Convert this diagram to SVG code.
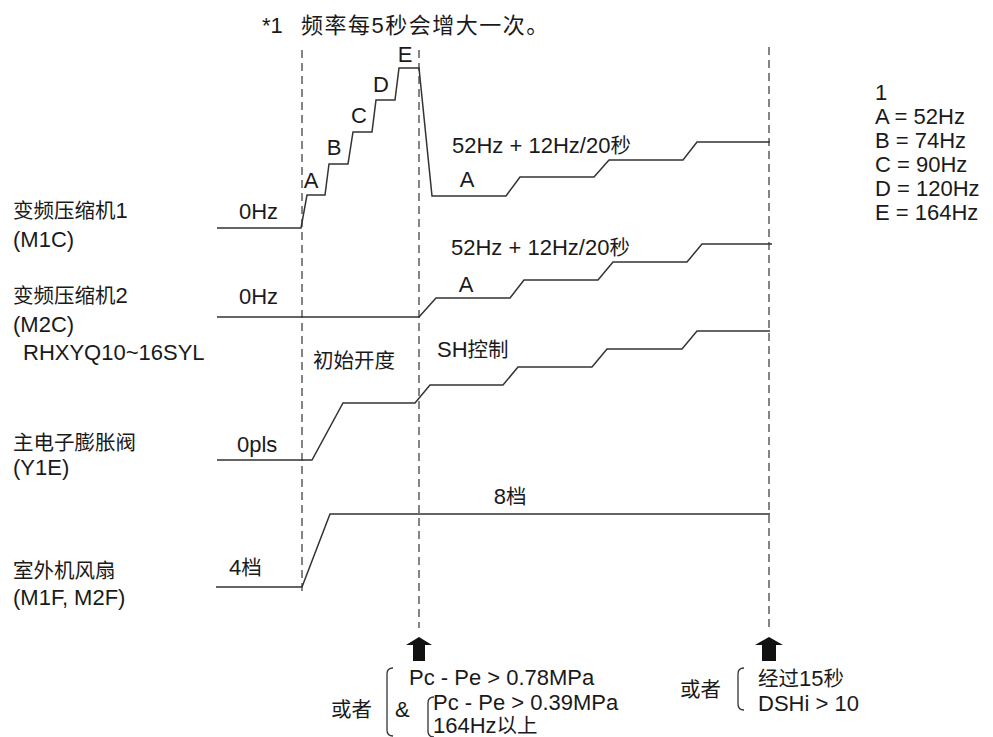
<svg xmlns="http://www.w3.org/2000/svg" width="993" height="737" viewBox="0 0 993 737">
<style>
text{font-family:"Liberation Sans","Noto Sans CJK SC",sans-serif;font-size:22px;fill:#1a1a1a}
.c{font-size:20.5px}
.tr{fill:none;stroke:#333;stroke-width:1.5;stroke-linejoin:miter}
.dash{fill:none;stroke:#444;stroke-width:1.3;stroke-dasharray:8 5}
.br{fill:none;stroke:#333;stroke-width:1.3}
.arr{fill:#111}
</style>
<rect width="993" height="737" fill="#fff"/>
<g id="note">
<text x="262" y="33">*1</text>
<text x="301" y="33" letter-spacing="1.5">频率每<tspan font-size="22">5</tspan>秒会增大一次。</text>
</g>
<g id="legend">
<text x="875" y="100">1</text>
<text x="875" y="124">A = 52Hz</text>
<text x="875" y="148">B = 74Hz</text>
<text x="875" y="172">C = 90Hz</text>
<text x="875" y="196">D = 120Hz</text>
<text x="875" y="220">E = 164Hz</text>
</g>
<g id="connectors">
<path class="dash" d="M302,50V595"/>
<path class="dash" d="M419,50V628"/>
<path class="dash" d="M769,47V630"/>
</g>
<g id="m1c">
<text x="13" y="218"><tspan class="c">变频压缩机</tspan>1</text>
<text x="13" y="247">(M1C)</text>
<text x="239" y="219">0Hz</text>
<path class="tr" d="M217,228H301L307,195H325L329,164H348L353,132H372L376,100H395L399,68H419L432,196H506L520,177H594L609,160H683L697,142H770"/>
<text x="311" y="188" text-anchor="middle">A</text>
<text x="334" y="155" text-anchor="middle">B</text>
<text x="359" y="123" text-anchor="middle">C</text>
<text x="381" y="92" text-anchor="middle">D</text>
<text x="405" y="62" text-anchor="middle">E</text>
<text x="452" y="153">52Hz + 12Hz/20<tspan class="c">秒</tspan></text>
<text x="467" y="187" text-anchor="middle">A</text>
</g>
<g id="m2c">
<text x="13" y="303"><tspan class="c">变频压缩机</tspan>2</text>
<text x="13" y="332">(M2C)</text>
<text x="23" y="360">RHXYQ10~16SYL</text>
<text x="239" y="304">0Hz</text>
<path class="tr" d="M217,317H419L436,298H510L524,280H598L613,262H687L702,244H772"/>
<text x="451" y="255">52Hz + 12Hz/20<tspan class="c">秒</tspan></text>
<text x="466" y="292" text-anchor="middle">A</text>
</g>
<g id="eev">
<text x="13" y="450"><tspan class="c">主电子膨胀阀</tspan></text>
<text x="13" y="475">(Y1E)</text>
<text x="237" y="452">0pls</text>
<path class="tr" d="M217,460H312L343,403H415L430,385H503L518,367H592L607,349H682L697,331H770"/>
<text x="313" y="368"><tspan class="c">初始开度</tspan></text>
<text x="437" y="357">SH<tspan class="c">控制</tspan></text>
</g>
<g id="fan">
<text x="13" y="578"><tspan class="c">室外机风扇</tspan></text>
<text x="13" y="605">(M1F, M2F)</text>
<text x="229" y="575">4<tspan class="c">档</tspan></text>
<path class="tr" d="M216,587H302L330,514H770"/>
<text x="510" y="504" text-anchor="middle">8<tspan class="c">档</tspan></text>
</g>
<g id="cond1">
<path class="arr" d="M419,637L432,645H425V661H413V645H406Z"/>
<text x="331" y="717"><tspan class="c">或者</tspan></text>
<path class="br" d="M393,668Q387,668 387,674V730Q387,736 393,736"/>
<text x="409" y="685">Pc - Pe &gt; 0.78MPa</text>
<text x="395" y="717">&amp;</text>
<path class="br" d="M434,697Q428,697 428,703V731Q428,737 434,737"/>
<text x="433" y="710">Pc - Pe &gt; 0.39MPa</text>
<text x="433" y="733">164Hz<tspan class="c">以上</tspan></text>
</g>
<g id="cond2">
<path class="arr" d="M769,637L783,645H776V661H762V645H755Z"/>
<text x="680" y="697"><tspan class="c">或者</tspan></text>
<path class="br" d="M744,668Q738,668 738,674V704Q738,710 744,710"/>
<text x="758" y="686"><tspan class="c">经过</tspan>15<tspan class="c">秒</tspan></text>
<text x="758" y="711">DSHi &gt; 10</text>
</g>
</svg>
